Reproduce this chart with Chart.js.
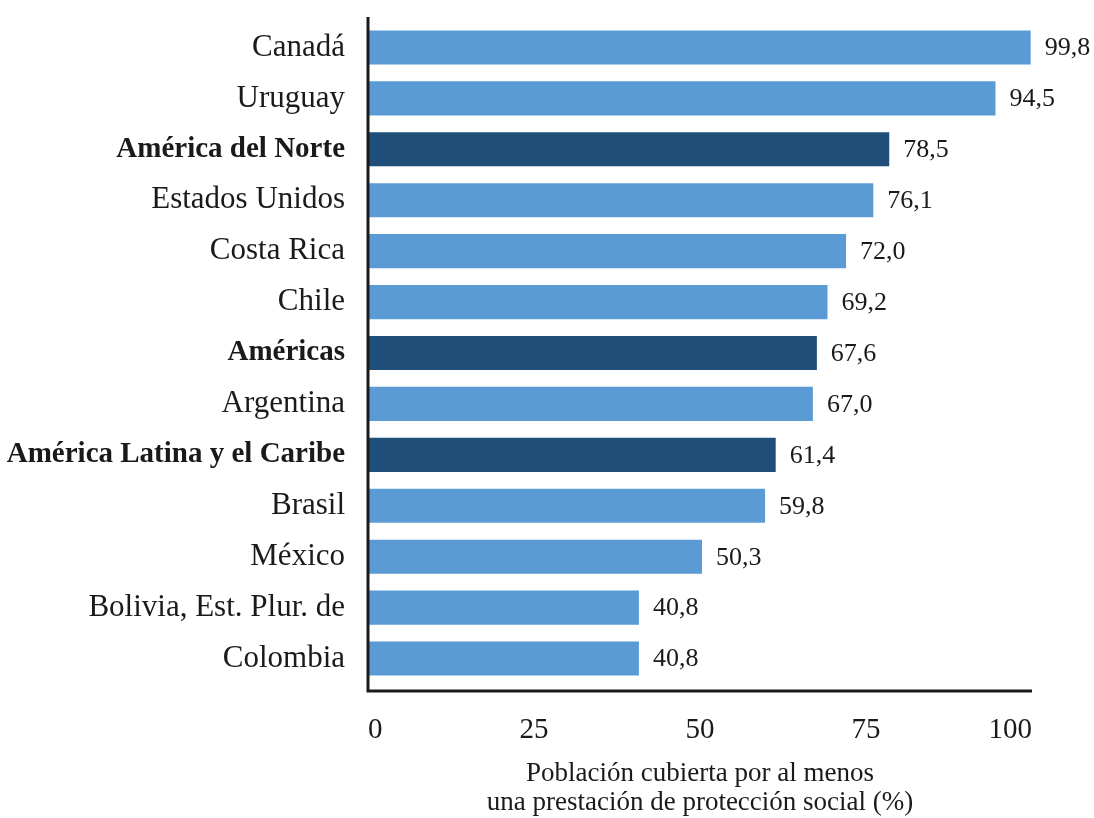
<!DOCTYPE html>
<html>
<head>
<meta charset="utf-8">
<script src="https://cdn.jsdelivr.net/npm/chart.js@4/dist/chart.umd.min.js"></script>
<style>
  html, body { margin: 0; padding: 0; background: #fff; }
  #wrap { width: 1094px; height: 818px; }
</style>
</head>
<body>
<div id="wrap"><canvas id="grafico" width="1094" height="818"></canvas></div>
<script>
// dati
const paesi = ['Canadá', 'Uruguay', 'América del Norte', 'Estados Unidos', 'Costa Rica', 'Chile', 'Américas',
  'Argentina', 'América Latina y el Caribe', 'Brasil', 'México', 'Bolivia, Est. Plur. de', 'Colombia'];
const valori = [99.8, 94.5, 78.5, 76.1, 72.0, 69.2, 67.6, 67.0, 61.4, 59.8, 50.3, 40.8, 40.8];
const regioni = ['América del Norte', 'Américas', 'América Latina y el Caribe']; // barre scure, etichette in grassetto
const tickX = [0, 25, 50, 75, 100];
const titoloX = ['Población cubierta por al menos', 'una prestación de protección social (%)'];

const CHIARO = '#5b9bd5';
const SCURO = '#1f4e79';
const TESTO = '#1a1a1a';
const FONT = "'Liberation Serif', 'Times New Roman', serif";

// linee degli assi (un po' più lunghe dell'area, come nell'originale)
const assi = {
  id: 'assi',
  afterDraw(chart) {
    const { ctx, chartArea: a } = chart;
    ctx.save();
    ctx.strokeStyle = '#1a1a1a';
    ctx.lineWidth = 3;
    ctx.beginPath();
    ctx.moveTo(a.left, a.top - 5);
    ctx.lineTo(a.left, a.bottom + 7);
    ctx.lineTo(a.right, a.bottom + 7);
    ctx.stroke();
    ctx.restore();
  }
};

// etichette con il valore a destra di ogni barra
const etichette = {
  id: 'etichette',
  afterDatasetsDraw(chart) {
    const { ctx } = chart;
    const meta = chart.getDatasetMeta(0);
    ctx.save();
    ctx.font = `26px ${FONT}`;
    ctx.fillStyle = TESTO;
    ctx.textAlign = 'left';
    ctx.textBaseline = 'middle';
    meta.data.forEach((bar, i) => {
      ctx.fillText(valori[i].toFixed(1).replace('.', ','), bar.x + 14, bar.y + 1);
    });
    ctx.restore();
  }
};

new Chart(document.getElementById('grafico'), {
  type: 'bar',
  data: {
    labels: paesi,
    datasets: [{
      data: valori,
      backgroundColor: paesi.map(p => regioni.includes(p) ? SCURO : CHIARO),
      borderWidth: 0,
      categoryPercentage: 1,
      barPercentage: 0.67
    }]
  },
  options: {
    indexAxis: 'y',
    responsive: false,
    animation: false,
    layout: { padding: { top: 22, right: 62, left: 0, bottom: 0 } },
    plugins: { legend: { display: false }, tooltip: { enabled: false } },
    scales: {
      y: {
        grid: { display: false, drawTicks: false },
        border: { display: false },
        afterFit: s => { s.width = 368; s.paddingTop = 0; s.paddingBottom = 0; }, // niente spazio extra sopra/sotto
        ticks: {
          padding: 23,
          color: TESTO,
          font: c => regioni.includes(paesi[c.index])
            ? { family: FONT, size: 29, weight: 'bold' }
            : { family: FONT, size: 31, weight: 'normal' }
        }
      },
      x: {
        min: 0, max: 100,
        afterFit: s => { s.height = 134; },
        afterBuildTicks: s => { s.ticks = tickX.map(v => ({ value: v })); },
        grid: { display: false, drawTicks: false },
        border: { display: false },
        ticks: { padding: 29, align: 'inner', color: TESTO, font: { family: FONT, size: 29 } },
        title: {
          display: true,
          text: titoloX,
          color: TESTO,
          font: { family: FONT, size: 27, lineHeight: 1.1 },
          padding: { top: 0, bottom: 0 }
        }
      }
    }
  },
  plugins: [assi, etichette]
});
</script>
</body>
</html>
